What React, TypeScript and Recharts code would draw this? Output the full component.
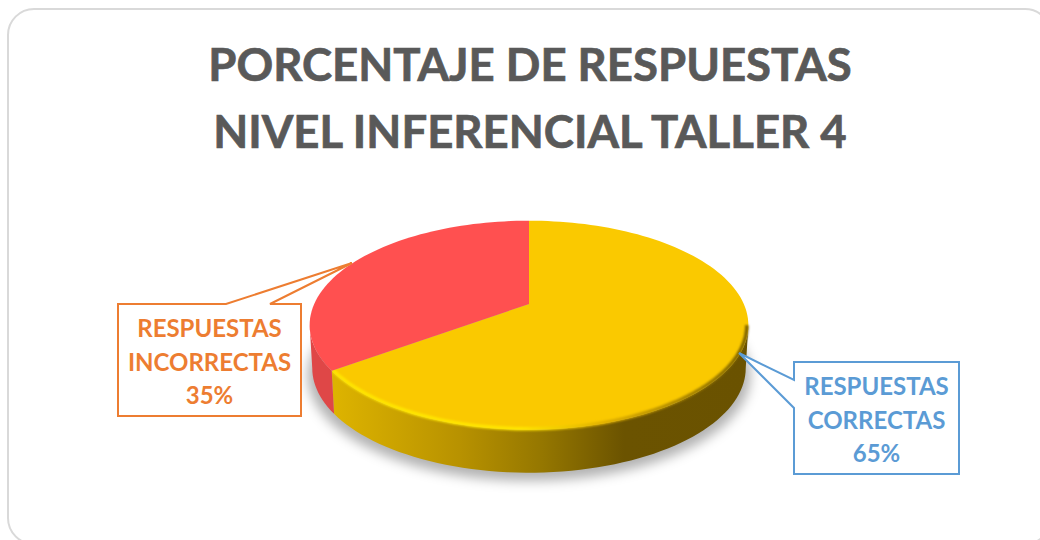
import React from "react";
import { PieChart, Pie } from "recharts";

const titleLines = ["PORCENTAJE DE RESPUESTAS", "NIVEL INFERENCIAL TALLER 4"];
const categories = ["RESPUESTAS CORRECTAS", "RESPUESTAS INCORRECTAS"];
const shares = [65, 35];
const sliceColors = ["#FAC900", "#FF5050"];
const rimColors = ["url(#goldSide)", "#DF4747"];
const calloutColors = ["#5B9BD5", "#ED7D31"];

const tableData = categories.map((name, i) => ({ name, value: shares[i] }));

// Perspective applied to a flat circle of radius outerRadius
const TILT = 0.2029;
const Y_SCALE = 100.2 / 220;
const X_SCALE = 214.8 / 220;
const DEPTH = 43;
const LOWER_RIM_X = 0.988;
const FONT = "Lato, 'Open Sans', sans-serif";

const project = (cx: number, cy: number, r: number, clockDeg: number) => {
  const t = (clockDeg * Math.PI) / 180;
  const X = Math.sin(t);
  const Y = -Math.cos(t);
  const d = 1 - TILT * Y;
  return { x: cx + (r * X_SCALE * X) / d, y: cy + (r * Y_SCALE * Y) / d };
};

const arcPts = (cx: number, cy: number, r: number, a: number, b: number) => {
  const pts: { x: number; y: number }[] = [];
  const n = Math.max(2, Math.ceil(Math.abs(b - a) / 2));
  for (let i = 0; i <= n; i++) pts.push(project(cx, cy, r, a + ((b - a) * i) / n));
  return pts;
};
const toPath = (pts: { x: number; y: number }[]) =>
  pts.map((p, i) => `${i ? "L" : "M"}${p.x.toFixed(2)} ${p.y.toFixed(2)}`).join(" ");

const RIGHT_EDGE = (Math.acos(-TILT) * 180) / Math.PI;
const LEFT_EDGE = 360 - RIGHT_EDGE;

const Slice3D = (props: any) => {
  const { cx, cy, outerRadius: r, startAngle, endAngle, index, fill } = props;
  const a = 90 - startAngle;
  const b = 90 - endAngle;
  const top = arcPts(cx, cy, r, a, b);
  const from = Math.max(a, RIGHT_EDGE);
  const to = Math.min(b, LEFT_EDGE);
  const front = arcPts(cx, cy, r, from, to);
  const lower = front
    .map((p) => ({ x: cx + (p.x - cx) * LOWER_RIM_X, y: p.y + DEPTH }))
    .reverse();
  const sidePath = toPath([...front, ...lower]) + " Z";
  const shadow = arcPts(cx, cy + DEPTH + 7, r + 2, 0, 360);
  return (
    <g>
      {index === 0 && <path d={toPath(shadow) + " Z"} fill="rgba(0,0,0,0.30)" filter="url(#softShadow)" />}
      <path d={sidePath} fill={rimColors[index]} />
      <path d={`M${cx} ${cy} ` + toPath(top).replace(/^M/, "L") + " Z"} fill={fill} />
      {index === 0 && (
        <path
          d={toPath(arcPts(cx, cy, r - 1.5, from, to))}
          fill="none"
          stroke="url(#bevel)"
          strokeWidth={3.5}
          filter="url(#softBevel)"
        />
      )}
    </g>
  );
};

const calloutBoxes = [
  { x: 794, y: 362, w: 165, h: 112, tx: 739, ty: 353, edge: "left", p: 380, q: 408 },
  { x: 118, y: 304, w: 183, h: 112, tx: 352, ty: 263, edge: "top", p: 226, q: 270 },
];

const Callout = (props: any) => {
  const { index, name, value } = props;
  const c = calloutBoxes[index];
  const color = calloutColors[index];
  const right = c.x + c.w;
  const bottom = c.y + c.h;
  const outline =
    c.edge === "left"
      ? `M${c.x} ${c.y} L${right} ${c.y} L${right} ${bottom} L${c.x} ${bottom} L${c.x} ${c.q} L${c.tx} ${c.ty} L${c.x} ${c.p} Z`
      : `M${c.x} ${c.y} L${c.p} ${c.y} L${c.tx} ${c.ty} L${c.q} ${c.y} L${right} ${c.y} L${right} ${bottom} L${c.x} ${bottom} Z`;
  const lines = [...String(name).split(" "), `${value}%`];
  return (
    <g>
      <path d={outline} fill="#FFFFFF" stroke={color} strokeWidth={2} />
      {lines.map((line, i) => (
        <text
          key={line}
          x={c.x + c.w / 2}
          y={c.y + 33 + i * 33.5}
          textAnchor="middle"
          fontFamily={FONT}
          fontWeight={700}
          fontSize={24}
          fill={color}
        >
          {line}
        </text>
      ))}
    </g>
  );
};

export default function App() {
  return (
    <div style={{ position: "absolute", left: 0, top: 0, width: 1040, height: 540, background: "#FFFFFF", overflow: "hidden" }}>
      <PieChart width={1040} height={540} margin={{ top: 0, right: 0, bottom: 0, left: 0 }}>
        <defs>
          <linearGradient id="goldSide" gradientUnits="userSpaceOnUse" x1={335} y1={0} x2={748} y2={0}>
            <stop offset="0" stopColor="#DDB300" />
            <stop offset="0.3" stopColor="#B89200" />
            <stop offset="0.5" stopColor="#957700" />
            <stop offset="0.7" stopColor="#6B5300" />
            <stop offset="1" stopColor="#6A5200" />
          </linearGradient>
          <linearGradient id="bevel" gradientUnits="userSpaceOnUse" x1={335} y1={0} x2={748} y2={0}>
            <stop offset="0" stopColor="#FFE600" />
            <stop offset="0.45" stopColor="#FFE600" />
            <stop offset="0.65" stopColor="#E0B000" />
            <stop offset="1" stopColor="#7A6000" />
          </linearGradient>
          <filter id="softShadow" x="-20%" y="-30%" width="140%" height="160%">
            <feGaussianBlur stdDeviation="6" />
          </filter>
          <filter id="softBevel" x="-5%" y="-10%" width="110%" height="120%">
            <feGaussianBlur stdDeviation="0.8" />
          </filter>
        </defs>
        <rect x={8} y={9} width={1043} height={535} rx={26} ry={26} fill="#FFFFFF" stroke="#D9D9D9" strokeWidth={2} />
        {titleLines.map((line, i) => (
          <text
            key={line}
            x={530}
            y={81 + i * 67}
            textAnchor="middle"
            fontFamily={FONT}
            fontWeight={700}
            fontSize={45.5}
            fill="#595959"
            stroke="#595959"
            strokeWidth={0.7}
          >
            {line}
          </text>
        ))}
        <Pie
          data={tableData}
          dataKey="value"
          nameKey="name"
          cx={529}
          cy={304}
          outerRadius={220}
          startAngle={90}
          endAngle={-270}
          stroke="none"
          isAnimationActive={false}
          shape={(p: any) => <Slice3D {...p} fill={sliceColors[p.index]} />}
          label={(p: any) => <Callout {...p} />}
          labelLine={false}
        />
      </PieChart>
    </div>
  );
}
